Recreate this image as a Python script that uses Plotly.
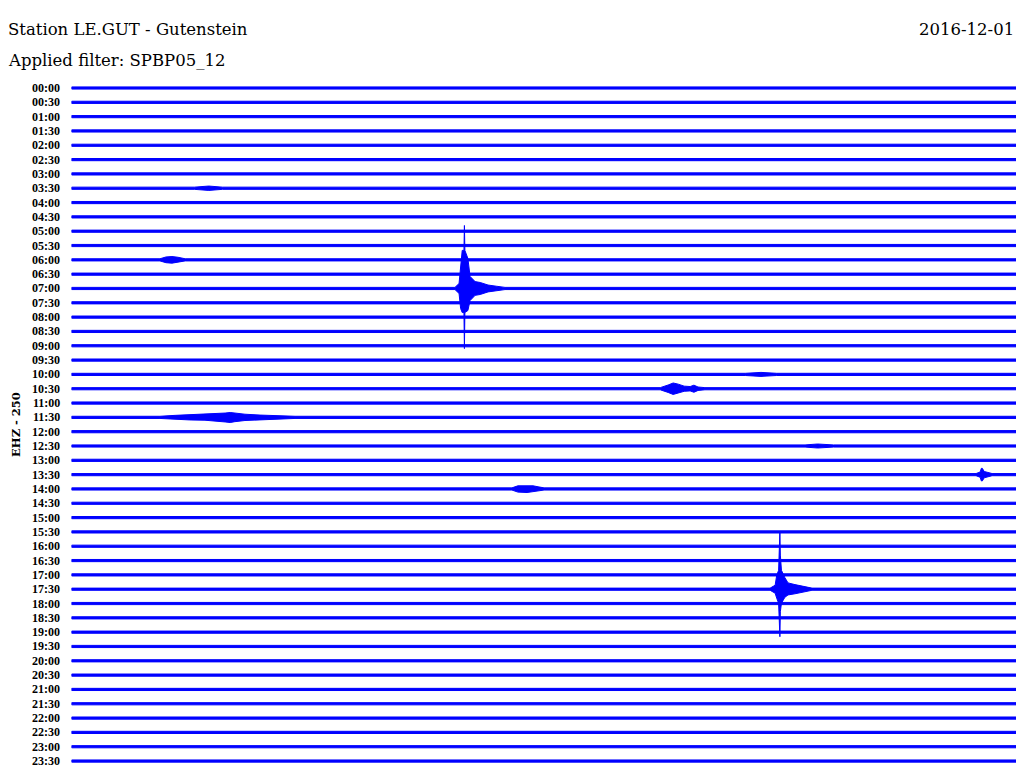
import plotly.graph_objects as go

# ---------------- data ----------------
row_labels = [f"{h:02d}:{m:02d}" for h in range(24) for m in (0, 30)]
minutes_span = [0.0, 30.0]            # each row covers 30 minutes
row_scale_counts = 250                # EHZ - 250 : counts per row spacing
row_noise_counts = [19] * 48          # half-width of background noise band per row

# events: row label, minute positions, upper envelope, lower envelope (counts)
ev1_row = "07:00"
ev1_min = [12.18, 12.31, 12.36, 12.41, 12.465, 12.48, 12.495, 12.59, 12.66, 12.82, 12.98, 13.23, 13.49, 13.77]
ev1_up = [19, 87, 400, 665, 665, 1100, 665, 525, 210, 120, 105, 60, 40, 19]
ev1_dn = [19, 87, 350, 420, 420, 1050, 420, 385, 210, 120, 105, 60, 40, 19]

ev2_row = "17:30"
ev2_min = [22.19, 22.35, 22.40, 22.46, 22.48, 22.50, 22.515, 22.55, 22.66, 22.76, 22.98, 23.24, 23.52]
ev2_up = [19, 70, 245, 330, 595, 1005, 595, 330, 200, 110, 80, 55, 19]
ev2_dn = [19, 70, 157, 245, 393, 830, 393, 245, 140, 100, 80, 55, 19]

ev3_row = "10:30"
ev3_min = [18.70, 18.95, 19.11, 19.27, 19.46, 19.65, 19.77, 19.90, 20.12]
ev3_up = [19, 65, 100, 80, 45, 38, 62, 30, 19]
ev3_dn = [19, 65, 100, 80, 45, 38, 62, 30, 19]

ev4_row = "11:30"
ev4_min = [2.81, 3.29, 3.76, 4.24, 4.56, 4.88, 5.04, 5.19, 5.51, 5.99, 6.62, 7.10]
ev4_up = [19, 35, 45, 50, 65, 75, 85, 75, 55, 40, 30, 19]
ev4_dn = [19, 35, 45, 50, 65, 80, 90, 75, 55, 40, 30, 19]

ev5_row = "13:30"
ev5_min = [28.73, 28.86, 28.90, 28.93, 28.99, 29.11, 29.24]
ev5_up = [19, 45, 110, 110, 55, 38, 19]
ev5_dn = [19, 45, 110, 110, 55, 38, 19]

ev6_row = "14:00"
ev6_min = [13.99, 14.18, 14.47, 14.66, 14.82, 15.01]
ev6_up = [19, 55, 62, 55, 38, 19]
ev6_dn = [19, 55, 62, 55, 38, 19]

ev7_row = "06:00"
ev7_min = [2.81, 3.00, 3.19, 3.38, 3.61]
ev7_up = [19, 50, 58, 45, 19]
ev7_dn = [19, 50, 58, 45, 19]

ev8_row = "03:30"
ev8_min = [3.90, 4.36, 4.80]
ev8_up = [19, 38, 19]
ev8_dn = [19, 38, 19]

ev9_row = "10:00"
ev9_min = [21.40, 21.90, 22.40]
ev9_up = [19, 35, 19]
ev9_dn = [19, 35, 19]

ev10_row = "12:30"
ev10_min = [23.30, 23.70, 24.20]
ev10_up = [19, 35, 19]
ev10_dn = [19, 35, 19]

events = [
    (ev1_row, ev1_min, ev1_up, ev1_dn),
    (ev2_row, ev2_min, ev2_up, ev2_dn),
    (ev3_row, ev3_min, ev3_up, ev3_dn),
    (ev4_row, ev4_min, ev4_up, ev4_dn),
    (ev5_row, ev5_min, ev5_up, ev5_dn),
    (ev6_row, ev6_min, ev6_up, ev6_dn),
    (ev7_row, ev7_min, ev7_up, ev7_dn),
    (ev8_row, ev8_min, ev8_up, ev8_dn),
    (ev9_row, ev9_min, ev9_up, ev9_dn),
    (ev10_row, ev10_min, ev10_up, ev10_dn),
]

title_text = "Station LE.GUT - Gutenstein"
filter_text = "Applied filter: SPBP05_12"
date_text = "2016-12-01"
channel_text = "EHZ - 250"

# ---------------- figure ----------------
OFF = 8                      # default page margin around the plot div
W, H = 1024 - 2 * OFF, 780 - 2 * OFF
BLUE = "#0000FF"
fig = go.Figure()

for i, lab in enumerate(row_labels):
    base = row_noise_counts[i]
    pts = [(minutes_span[0], base, base), (minutes_span[1], base, base)]
    for (r, mins, up, dn) in events:
        if r == lab:
            pts.extend(zip(mins, up, dn))
    pts.sort(key=lambda p: p[0])
    center = -i
    xs_u = [p[0] for p in pts]
    ys_u = [center + p[1] / row_scale_counts for p in pts]
    ys_l = [center - p[2] / row_scale_counts for p in pts]
    xs = xs_u + xs_u[::-1] + [xs_u[0]]
    ys = ys_u + ys_l[::-1] + [ys_u[0]]
    fig.add_trace(go.Scatter(
        x=xs, y=ys, mode="lines", fill="toself", fillcolor=BLUE,
        line=dict(color=BLUE, width=1), hoverinfo="skip", showlegend=False))


def px(xpage):
    return (xpage - OFF) / W


def py(ypage):
    return 1 - (ypage - OFF) / H


# pixel geometry (page coordinates)
x_left, x_right = 71.5, 1016.0
y_first, row_px = 88.0, 14.32
y_top = (y_first - OFF) / row_px
y_bot = (H + OFF - y_first) / row_px

fig.update_layout(
    width=W, height=H, autosize=False,
    margin=dict(l=0, r=0, t=0, b=0),
    paper_bgcolor="white", plot_bgcolor="white",
    xaxis=dict(domain=[px(x_left), px(x_right)], range=minutes_span,
               visible=False, showgrid=False, zeroline=False),
    yaxis=dict(domain=[0, 1], range=[-y_bot, y_top],
               visible=False, showgrid=False, zeroline=False),
)

for i, lab in enumerate(row_labels):
    fig.add_annotation(x=px(62), xref="paper", y=-i, yref="y", text=lab,
                       showarrow=False, xanchor="right", yanchor="middle",
                       font=dict(family="Liberation Serif", size=12, color="black", weight="bold"))

fig.add_annotation(x=px(6), xref="paper", y=py(30), yref="paper", text=title_text,
                   showarrow=False, xanchor="left", yanchor="middle",
                   font=dict(family="DejaVu Serif", size=16.5, color="black"))
fig.add_annotation(x=px(6), xref="paper", y=py(60), yref="paper", text=filter_text,
                   showarrow=False, xanchor="left", yanchor="middle",
                   font=dict(family="DejaVu Serif", size=16.5, color="black"))
fig.add_annotation(x=px(1016), xref="paper", y=py(30), yref="paper", text=date_text,
                   showarrow=False, xanchor="right", yanchor="middle",
                   font=dict(family="DejaVu Serif", size=16.5, color="black"))
fig.add_annotation(x=0, xref="paper", y=py(425), yref="paper", text=channel_text,
                   showarrow=False, xanchor="left", yanchor="middle", textangle=-90,
                   borderpad=0,
                   font=dict(family="DejaVu Serif", size=11.5, color="black", weight="bold"))

fig.write_html("out.html")
